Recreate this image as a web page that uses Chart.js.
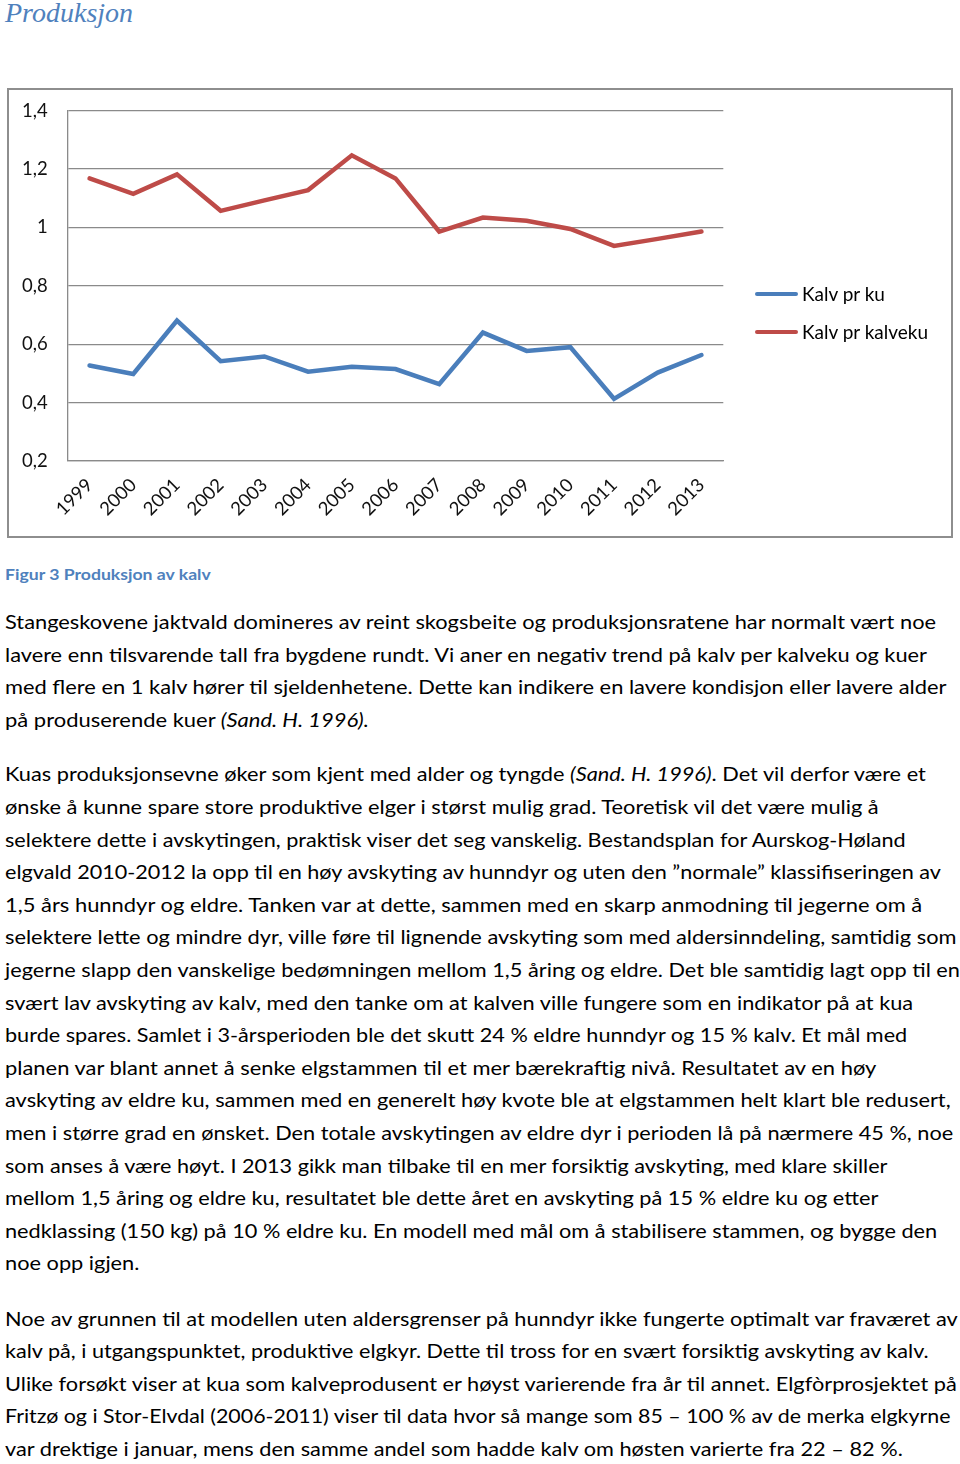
<!DOCTYPE html>
<html>
<head>
<meta charset="utf-8">
<script src="https://cdn.jsdelivr.net/npm/chart.js@4"></script>
<style>
  html, body { margin:0; padding:0; background:#fff; }
  body { width:960px; height:1464px; position:relative; overflow:hidden; font-family:Lato, "Open Sans", sans-serif; color:#000; }
  .ln { position:absolute; left:5px; white-space:nowrap; transform-origin:0 0; font-size:19px; line-height:32.6px; height:32.6px; }
  #title { position:absolute; left:5px; top:-4px; font-family:"Liberation Serif", "DejaVu Serif", serif; font-style:italic; font-size:28px; color:#4F81BD; white-space:nowrap; transform-origin:0 0; line-height:34px;}
  #caption { position:absolute; left:5px; top:562px; font-weight:bold; font-size:16px; color:#4F81BD; white-space:nowrap; transform-origin:0 0; line-height:24px;}
  #box { position:absolute; left:7px; top:88px; width:942px; height:446px; border:2px solid #8e8e8e; }
  #wrap { position:absolute; left:0; top:0; width:942px; height:446px; }
  #legend { position:absolute; left:746px; top:193px; font-size:19px; }
  .li { position:absolute; left:0; white-space:nowrap; height:22px; line-height:22px; }
  .li span.sw { position:absolute; left:0; top:9px; width:43px; height:4px; border-radius:2px; }
  .li span.tx { position:absolute; left:47px; top:0; }
</style>
</head>
<body>
<div id="title">Produksjon</div>
<div id="box">
  <div id="wrap"><canvas id="c"></canvas></div>
  <div id="legend"></div>
</div>
<div id="caption">Figur 3 Produksjon av kalv</div>
<div id="text"></div>
<script>
// ---- data ----
const years = ["1999","2000","2001","2002","2003","2004","2005","2006","2007","2008","2009","2010","2011","2012","2013"];
const kalvPrKu = [0.527,0.498,0.681,0.542,0.558,0.506,0.523,0.515,0.463,0.640,0.577,0.590,0.413,0.503,0.563];
const kalvPrKalveku = [1.168,1.115,1.182,1.057,1.093,1.128,1.247,1.168,0.986,1.034,1.023,0.995,0.937,0.961,0.986];
const seriesNames = ["Kalv pr ku","Kalv pr kalveku"];
const seriesColors = ["#4A7EBB","#BE4B48"];
const yMin = 0.2, yMax = 1.4, yStep = 0.2;

// ---- text (line, right edge in px) ----
const para1 = [
["Stangeskovene jaktvald domineres av reint skogsbeite og produksjonsratene har normalt vært noe", 936],
["lavere enn tilsvarende tall fra bygdene rundt. Vi aner en negativ trend på kalv per kalveku og kuer", 927],
["med flere en 1 kalv hører til sjeldenhetene. Dette kan indikere en lavere kondisjon eller lavere alder", 946],
["på produserende kuer <i>(Sand. H. 1996).</i>", 369]
];
const para2 = [
["Kuas produksjonsevne øker som kjent med alder og tyngde <i>(Sand. H. 1996)</i>. Det vil derfor være et", 926],
["ønske å kunne spare store produktive elger i størst mulig grad. Teoretisk vil det være mulig å", 879],
["selektere dette i avskytingen, praktisk viser det seg vanskelig. Bestandsplan for Aurskog-Høland", 906],
["elgvald 2010-2012 la opp til en høy avskyting av hunndyr og uten den ”normale” klassifiseringen av", 941],
["1,5 års hunndyr og eldre. Tanken var at dette, sammen med en skarp anmodning til jegerne om å", 922],
["selektere lette og mindre dyr, ville føre til lignende avskyting som med aldersinndeling, samtidig som", 957],
["jegerne slapp den vanskelige bedømningen mellom 1,5 åring og eldre. Det ble samtidig lagt opp til en", 960],
["svært lav avskyting av kalv, med den tanke om at kalven ville fungere som en indikator på at kua", 913],
["burde spares. Samlet i 3-årsperioden ble det skutt 24 % eldre hunndyr og 15 % kalv. Et mål med", 907],
["planen var blant annet å senke elgstammen til et mer bærekraftig nivå. Resultatet av en høy", 876],
["avskyting av eldre ku, sammen med en generelt høy kvote ble at elgstammen helt klart ble redusert,", 951],
["men i større grad en ønsket. Den totale avskytingen av eldre dyr i perioden lå på nærmere 45 %, noe", 953],
["som anses å være høyt. I 2013 gikk man tilbake til en mer forsiktig avskyting, med klare skiller", 888],
["mellom 1,5 åring og eldre ku, resultatet ble dette året en avskyting på 15 % eldre ku og etter", 878],
["nedklassing (150 kg) på 10 % eldre ku. En modell med mål om å stabilisere stammen, og bygge den", 937],
["noe opp igjen.", 139]
];
const para3 = [
["Noe av grunnen til at modellen uten aldersgrenser på hunndyr ikke fungerte optimalt var fraværet av", 958],
["kalv på, i utgangspunktet, produktive elgkyr. Dette til tross for en svært forsiktig avskyting av kalv.", 929],
["Ulike forsøkt viser at kua som kalveprodusent er høyst varierende fra år til annet. Elgfòrprosjektet på", 957],
["Fritzø og i Stor-Elvdal (2006-2011) viser til data hvor så mange som 85 – 100 % av de merka elgkyrne", 951],
["var drektige i januar, mens den samme andel som hadde kalv om høsten varierte fra 22 – 82 %.", 903]
];

const textDiv = document.getElementById('text');
function addPara(lines, top) {
  lines.forEach((ln, i) => {
    const d = document.createElement('div');
    d.className = 'ln';
    d.style.top = (top + i * 32.6) + 'px';
    d.innerHTML = ln[0];
    textDiv.appendChild(d);
    const f = (ln[1] - 5) / d.scrollWidth;
    d.style.transform = 'scaleX(' + f + ')';
  });
}
addPara(para1, 606);
addPara(para2, 758.4);
addPara(para3, 1302.6);

function fit(id, w) {
  const el = document.getElementById(id);
  el.style.transform = 'scaleX(' + (w / el.scrollWidth) + ')';
}
fit('title', 128);
fit('caption', 206);

// legend (HTML, built from series arrays)
const lg = document.getElementById('legend');
seriesNames.forEach((n, i) => {
  const d = document.createElement('div');
  d.className = 'li';
  d.style.top = (i * 38) + 'px';
  d.innerHTML = '<span class="sw" style="background:' + seriesColors[i] + '"></span><span class="tx">' + n + '</span>';
  lg.appendChild(d);
});

// ---- chart ----
const gridColor = '#8a8a8a';
new Chart(document.getElementById('c'), {
  type: 'line',
  data: {
    labels: years,
    datasets: [
      { label: seriesNames[0], data: kalvPrKu, borderColor: seriesColors[0], backgroundColor: seriesColors[0], borderWidth: 4.5, pointRadius: 0, tension: 0, borderJoinStyle: 'miter', borderCapStyle: 'round' },
      { label: seriesNames[1], data: kalvPrKalveku, borderColor: seriesColors[1], backgroundColor: seriesColors[1], borderWidth: 4.5, pointRadius: 0, tension: 0, borderJoinStyle: 'miter', borderCapStyle: 'round' }
    ]
  },
  options: {
    responsive: true,
    maintainAspectRatio: false,
    animation: false,
    layout: { padding: { top: 20.7, left: 0, right: 227.7, bottom: 0 } },
    plugins: { legend: { display: false }, tooltip: { enabled: false } },
    scales: {
      x: {
        type: 'category',
        offset: true,
        grid: { display: false, drawTicks: false },
        border: { display: true, color: gridColor, width: 1.3 },
        ticks: { color: '#111', font: { family: 'Lato', size: 18.5 }, minRotation: 45, maxRotation: 45, autoSkip: false, padding: 13 },
        afterFit: s => { s.height = 75; s.paddingLeft = 0; s.paddingRight = 0; s.paddingTop = 0; s.paddingBottom = 0; }
      },
      y: {
        min: yMin, max: yMax,
        grid: { color: gridColor, lineWidth: 1.3, drawTicks: false },
        border: { display: true, color: gridColor, width: 1.3 },
        ticks: {
          stepSize: yStep, color: '#111', font: { family: 'Lato', size: 18.5 }, padding: 20,
          callback: v => String(Number(v.toFixed(1))).replace('.', ',')
        },
        afterFit: s => { s.width = 58.7; s.paddingTop = 0; s.paddingBottom = 0; s.paddingLeft = 0; s.paddingRight = 0; }
      }
    }
  }
});
</script>
</body>
</html>
